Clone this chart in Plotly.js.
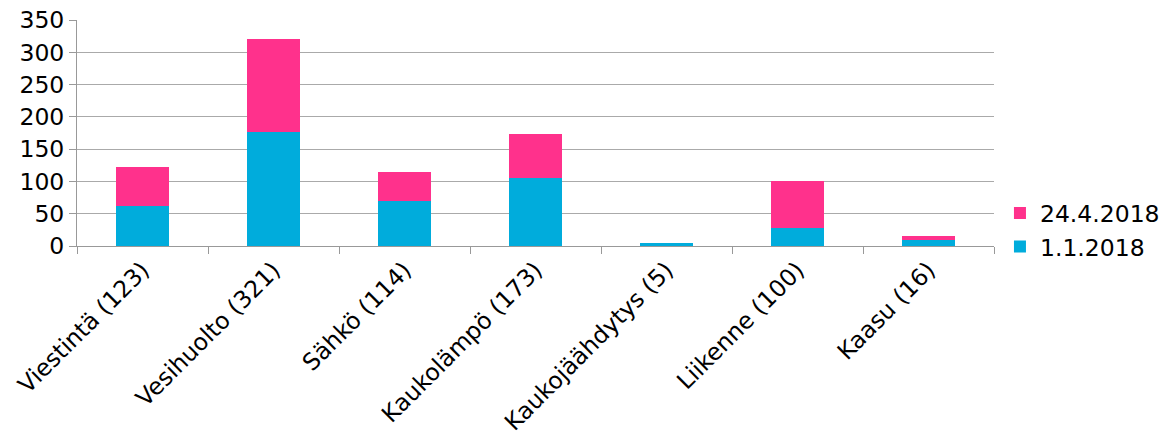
<!DOCTYPE html>
<html><head><meta charset="utf-8">
<script src="https://cdn.plot.ly/plotly-3.0.1.min.js"></script>
<style>body{margin:0;background:#fff}#c{width:1165px;height:446px}</style>
</head><body><div id="c"></div>
<script>
const categories = ["Viestintä (123)","Vesihuolto (321)","Sähkö (114)","Kaukolämpö (173)","Kaukojäähdytys (5)","Liikenne (100)","Kaasu (16)"];
const totals = [123,321,114,173,5,100,16];
const jan2018 = [62,176,70,105,4,28,10];
const apr2018 = totals.map((t,i)=>t-jan2018[i]);
const yTicks = [0,50,100,150,200,250,300,350];

const font = {family:"DejaVu Sans, Verdana, sans-serif", size:23.5, color:"#000"};
const traces = [
 {type:"bar", name:"1.1.2018", x:categories, y:jan2018, marker:{color:"#00ACDC"}},
 {type:"bar", name:"24.4.2018", x:categories, y:apr2018, marker:{color:"#FF318C"}}
];
const layout = {
 width:1165, height:446, barmode:"stack", bargap:0.6,
 margin:{l:77, r:171, t:20, b:200, autoexpand:false},
 paper_bgcolor:"#fff", plot_bgcolor:"#fff", font:font, showlegend:true,
 legend:{traceorder:"reversed", x:1.0065, xanchor:"left", y:0.07, yanchor:"middle", font:font, itemwidth:30, tracegroupgap:0},
 xaxis:{type:"category", tickangle:-45, ticks:"outside", tickson:"boundaries", ticklen:7, tickcolor:"#999",
        showline:true, linecolor:"#999", linewidth:1, tickfont:font, showgrid:false},
 yaxis:{range:[0,350], tickvals:yTicks, ticks:"outside", ticklen:7, tickcolor:"#999", showline:true, linecolor:"#999",
        gridcolor:"#aaa", gridwidth:1, tickfont:font, zeroline:false}
};
Plotly.newPlot("c", traces, layout, {displayModeBar:false, staticPlot:true});
</script></body></html>
